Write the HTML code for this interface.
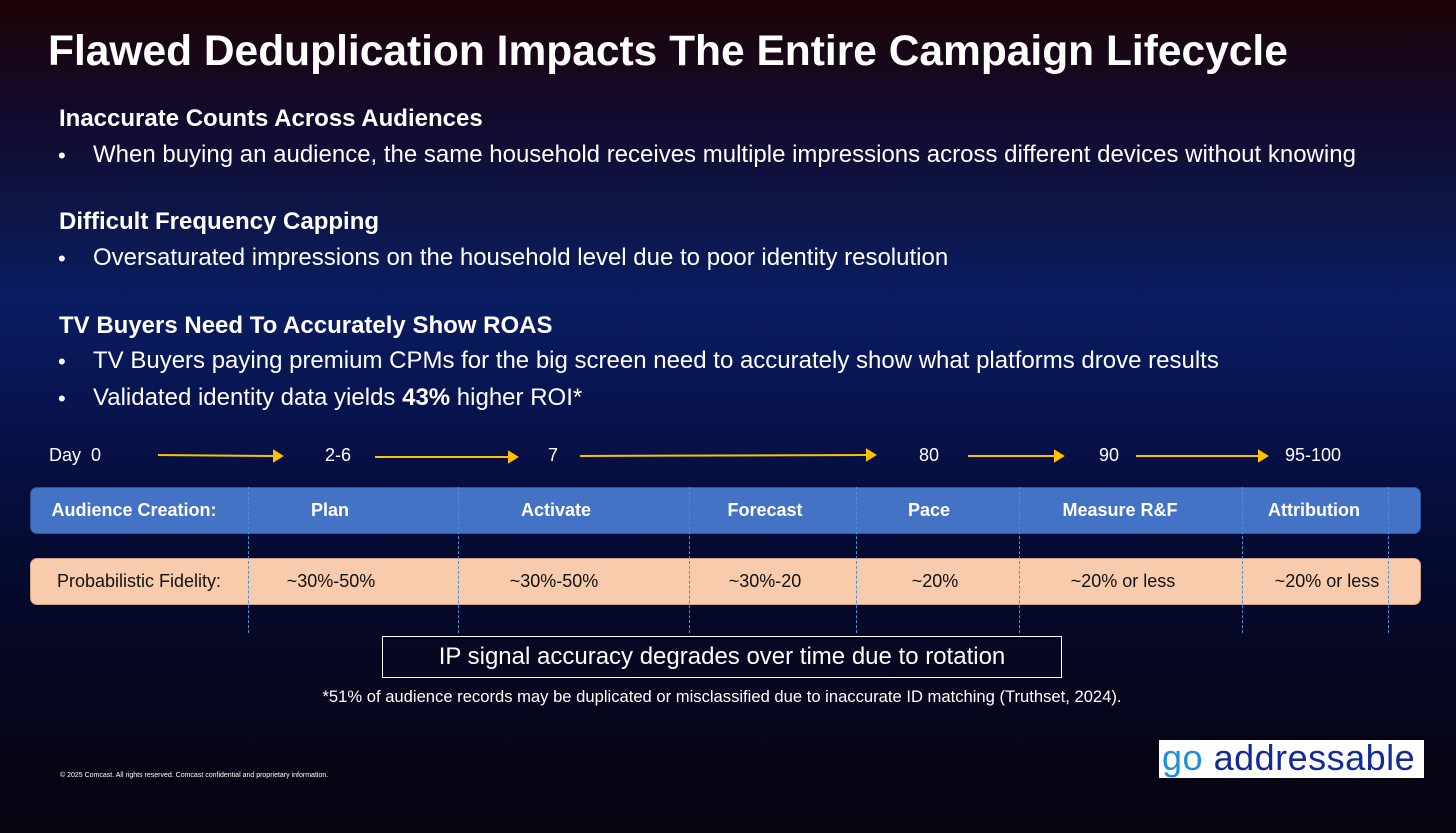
<!DOCTYPE html>
<html><head><meta charset="utf-8">
<style>
*{margin:0;padding:0;box-sizing:border-box}
body{width:1456px;height:833px;overflow:hidden;position:relative;font-family:"Liberation Sans",sans-serif;color:#fff;
background:linear-gradient(180deg,#1c0406 0px,#120a2a 110px,#0b1a55 260px,#0a1d62 300px,#081450 400px,#050a30 560px,#06061c 700px,#07040f 833px);}
.a{position:absolute;white-space:nowrap}
.h{font-weight:bold;font-size:24px;left:59px}
.b{font-size:24px;left:93px}
.dot{font-size:22px;left:58px}
.c{font-family:"Liberation Sans Narrow","Liberation Sans",sans-serif;font-size:18px;transform:translateX(-50%)}
.bar{position:absolute;left:30px;width:1391px;border-radius:7px}
.dash{position:absolute;top:487px;height:146px;border-left:1.5px dashed #4a8fd0}
</style></head><body>
<div class="a" style="left:48px;top:28px;font-size:42.5px;font-weight:bold">Flawed Deduplication Impacts The Entire Campaign Lifecycle</div>

<div class="a h" style="top:105px">Inaccurate Counts Across Audiences</div>
<div class="a dot" style="top:143px">•</div>
<div class="a b" style="top:141px">When buying an audience, the same household receives multiple impressions across different devices without knowing</div>

<div class="a h" style="top:208px">Difficult Frequency Capping</div>
<div class="a dot" style="top:246px">•</div>
<div class="a b" style="top:244px">Oversaturated impressions on the household level due to poor identity resolution</div>

<div class="a h" style="top:312px">TV Buyers Need To Accurately Show ROAS</div>
<div class="a dot" style="top:349px">•</div>
<div class="a b" style="top:347px">TV Buyers paying premium CPMs for the big screen need to accurately show what platforms drove results</div>
<div class="a dot" style="top:386px">•</div>
<div class="a b" style="top:384px">Validated identity data yields <b>43%</b> higher ROI*</div>

<div class="a" style="left:49px;top:445px;font-family:'Liberation Sans Narrow','Liberation Sans',sans-serif;font-size:18px">Day&nbsp; 0</div>
<div class="a c" style="left:338px;top:445px">2-6</div>
<div class="a c" style="left:553px;top:445px">7</div>
<div class="a c" style="left:929px;top:445px">80</div>
<div class="a c" style="left:1109px;top:445px">90</div>
<div class="a c" style="left:1313px;top:445px">95-100</div>

<svg class="a" style="left:0;top:0" width="1456" height="833">
<g stroke="#ffc000" stroke-width="2" fill="#ffc000">
<line x1="158" y1="455" x2="274" y2="456"/><polygon points="274,451 282,456 274,461"/>
<line x1="375" y1="457" x2="509" y2="457"/><polygon points="509,452 517,457 509,462"/>
<line x1="580" y1="456" x2="867" y2="455"/><polygon points="867,450 875,455 867,460"/>
<line x1="968" y1="456" x2="1055" y2="456"/><polygon points="1055,451 1063,456 1055,461"/>
<line x1="1136" y1="456" x2="1259" y2="456"/><polygon points="1259,451 1267,456 1259,461"/>
</g></svg>

<div class="bar" style="top:487px;height:47px;background:#4472c4;border:1px solid #2f5597"></div>
<div class="bar" style="top:558px;height:47px;background:#f8cbad;border:1px solid #c9a58c"></div>

<div class="dash" style="left:248px"></div>
<div class="dash" style="left:458px"></div>
<div class="dash" style="left:689px"></div>
<div class="dash" style="left:856px"></div>
<div class="dash" style="left:1019px"></div>
<div class="dash" style="left:1242px"></div>
<div class="dash" style="left:1388px"></div>

<div class="a c" style="left:134px;top:500px;font-weight:bold">Audience Creation:</div>
<div class="a c" style="left:330px;top:500px;font-weight:bold">Plan</div>
<div class="a c" style="left:556px;top:500px;font-weight:bold">Activate</div>
<div class="a c" style="left:765px;top:500px;font-weight:bold">Forecast</div>
<div class="a c" style="left:929px;top:500px;font-weight:bold">Pace</div>
<div class="a c" style="left:1120px;top:500px;font-weight:bold">Measure R&amp;F</div>
<div class="a c" style="left:1314px;top:500px;font-weight:bold">Attribution</div>

<div class="a c" style="left:139px;top:571px;color:#111">Probabilistic Fidelity:</div>
<div class="a c" style="left:331px;top:571px;color:#111">~30%-50%</div>
<div class="a c" style="left:554px;top:571px;color:#111">~30%-50%</div>
<div class="a c" style="left:765px;top:571px;color:#111">~30%-20</div>
<div class="a c" style="left:935px;top:571px;color:#111">~20%</div>
<div class="a c" style="left:1123px;top:571px;color:#111">~20% or less</div>
<div class="a c" style="left:1327px;top:571px;color:#111">~20% or less</div>

<div class="a" style="left:382px;top:636px;width:680px;height:42px;border:1.5px solid #fff;text-align:center;font-size:24px;line-height:40px">IP signal accuracy degrades over time due to rotation</div>
<div class="a c" style="left:722px;top:687px;font-size:16.6px">*51% of audience records may be duplicated or misclassified due to inaccurate ID matching (Truthset, 2024).</div>
<div class="a" style="left:60px;top:772px;font-size:7px">© 2025 Comcast. All rights reserved. Comcast confidential and proprietary information.</div>

<div class="a" style="left:1159px;top:740px;width:265px;height:38px;background:#fff;font-size:36px;line-height:36px;padding-left:3px;letter-spacing:0.5px"><span style="color:#1e8fd8">go</span> <span style="color:#13299a">addressable</span></div>
</body></html>
